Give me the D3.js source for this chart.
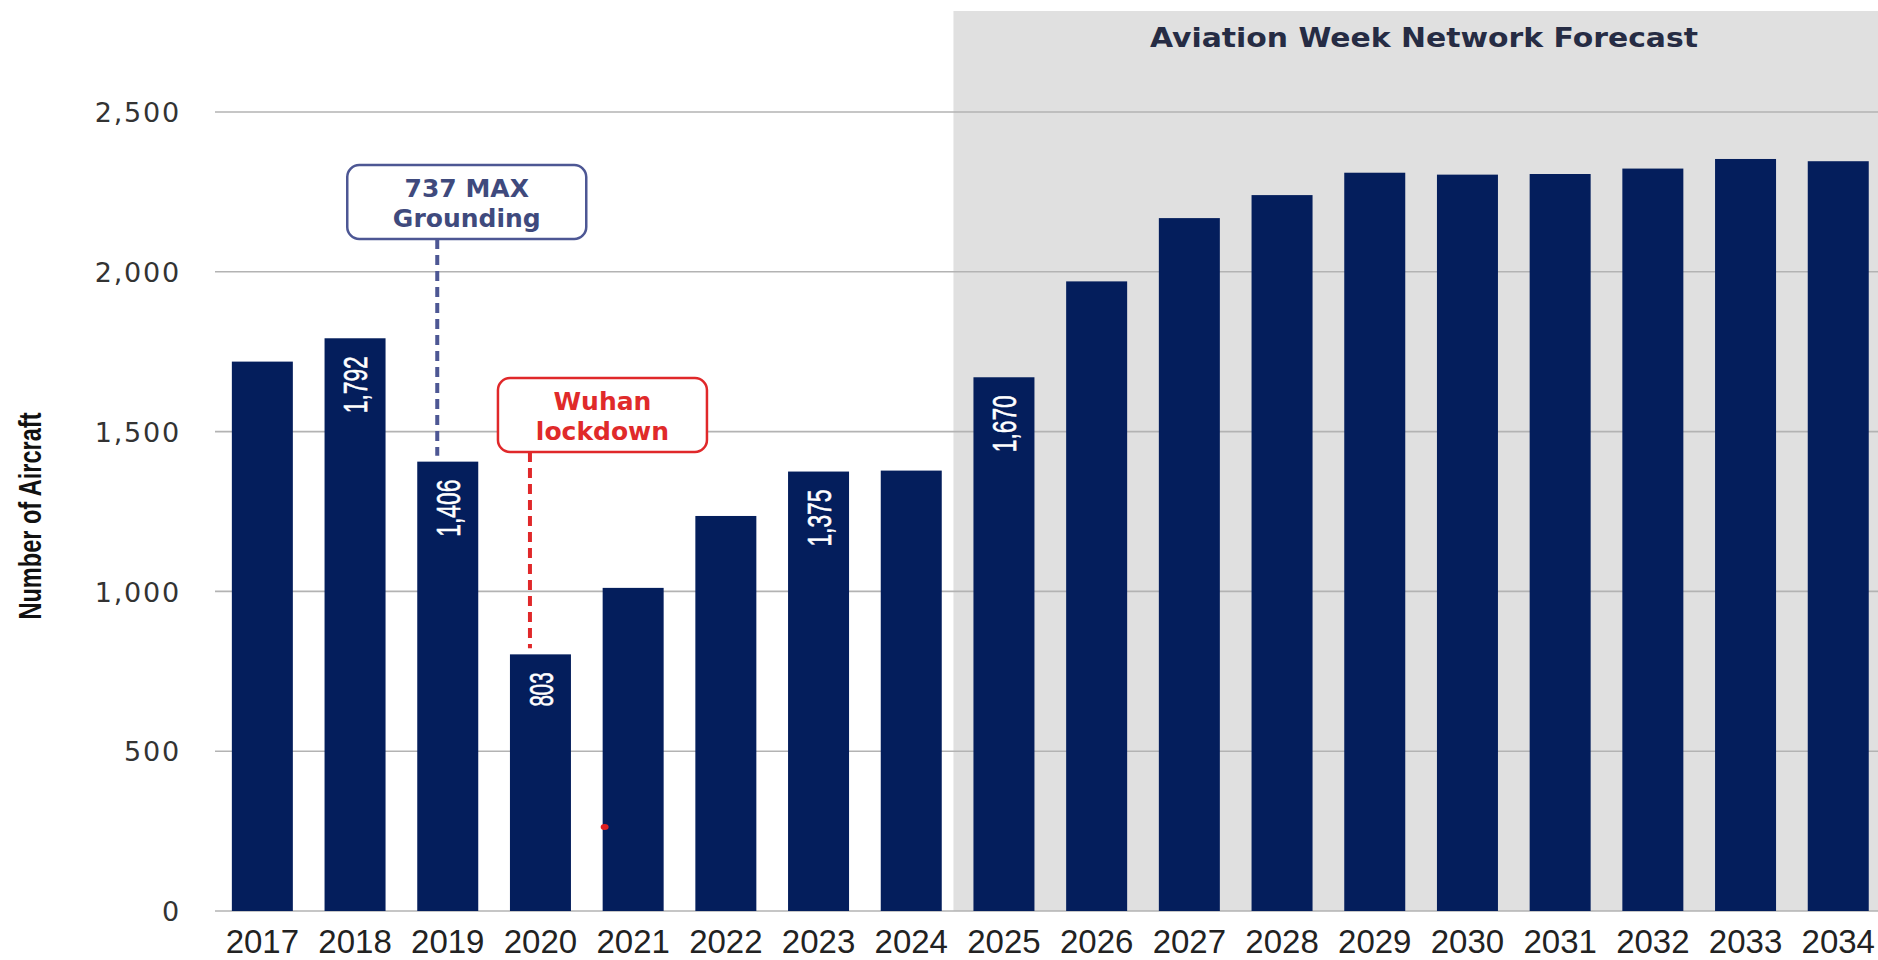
<!DOCTYPE html>
<html>
<head>
<meta charset="utf-8">
<script src="https://cdn.jsdelivr.net/npm/d3@7"></script>
<style>
  html, body { margin: 0; padding: 0; background: #ffffff; }
  svg { display: block; }
</style>
</head>
<body>
<svg id="chart" width="1878" height="960"></svg>
<script>
// ---- data ----
const years = ["2017","2018","2019","2020","2021","2022","2023","2024","2025","2026","2027","2028","2029","2030","2031","2032","2033","2034"];
const aircraft = [1719, 1792, 1406, 803, 1011, 1236, 1375, 1378, 1670, 1970, 2168, 2240, 2310, 2304, 2306, 2323, 2353, 2346];
const labeledYears = ["2018","2019","2020","2023","2025"];
const yTicks = [0, 500, 1000, 1500, 2000, 2500];
const forecastStart = "2025";
const forecastTitle = "Aviation Week Network Forecast";
const yAxisTitle = "Number of Aircraft";
const annotations = [
  { year: "2019", lines: ["737 MAX", "Grounding"] },
  { year: "2020", lines: ["Wuhan", "lockdown"] }
];

// ---- layout ----
const svg = d3.select("#chart");
const W = 1878, H = 960;
const x = d3.scaleBand().domain(years).range([216, 1884.6]).paddingInner(0.342).paddingOuter(0.171);
const y = d3.scaleLinear().domain([0, 2500]).range([911, 112]);
const fmt = d3.format(",");
const barColor = "#041e5c";

// forecast shaded region
const fx = x(forecastStart) - 20;
svg.append("rect").attr("x", fx).attr("y", 11).attr("width", W - fx).attr("height", y(0) - 11)
  .attr("fill", "#e0e0e0");
svg.append("text").attr("x", 1424).attr("y", 47).attr("text-anchor", "middle")
  .attr("font-family", "DejaVu Sans").attr("font-weight", "bold").attr("font-size", 26)
  .attr("textLength", 548).attr("lengthAdjust", "spacingAndGlyphs")
  .attr("fill", "#262c44").text(forecastTitle);

// gridlines + y axis
const yAxis = d3.axisLeft(y).tickValues(yTicks).tickSize(0).tickPadding(0).tickFormat(fmt);
const gy = svg.append("g").attr("transform", "translate(181,0)").call(yAxis);
gy.select(".domain").remove();
gy.selectAll("text").attr("font-family", "DejaVu Sans").attr("font-size", 27)
  .attr("letter-spacing", 1.8).attr("fill", "#333").attr("dy", "0.36em");
svg.append("g").selectAll("line").data(yTicks).join("line")
  .attr("x1", 215).attr("x2", W).attr("y1", d => y(d)).attr("y2", d => y(d))
  .attr("stroke", "#b3b3b3").attr("stroke-width", 1.6);

// y title
svg.append("text").attr("transform", "translate(30,516) rotate(-90)").attr("text-anchor", "middle")
  .attr("dy", "0.35em").attr("font-family", "Liberation Sans").attr("font-weight", "bold")
  .attr("font-size", 32).attr("textLength", 207).attr("lengthAdjust", "spacingAndGlyphs")
  .attr("fill", "#111").text(yAxisTitle);

// bars
const data = years.map((yr, i) => ({ year: yr, value: aircraft[i] }));
svg.append("g").selectAll("rect").data(data).join("rect")
  .attr("x", d => x(d.year)).attr("width", x.bandwidth())
  .attr("y", d => y(d.value)).attr("height", d => y(0) - y(d.value))
  .attr("fill", barColor);

// value labels inside bars
svg.append("g").selectAll("text").data(data.filter(d => labeledYears.includes(d.year))).join("text")
  .attr("transform", d => `translate(${x(d.year) + x.bandwidth() / 2},${y(d.value) + 18}) rotate(-90)`)
  .attr("text-anchor", "end").attr("dy", "0.36em")
  .attr("font-family", "Liberation Sans").attr("font-size", 34)
  .attr("stroke", "#ffffff").attr("stroke-width", 0.6)
  .attr("textLength", d => fmt(d.value).length * 11.4).attr("lengthAdjust", "spacingAndGlyphs")
  .attr("fill", "#ffffff").text(d => fmt(d.value));

// x axis labels
const xAxis = d3.axisBottom(x).tickSize(0).tickPadding(0);
const gx = svg.append("g").attr("transform", `translate(0,${y(0)})`).call(xAxis);
gx.select(".domain").remove();
gx.selectAll("text").attr("font-family", "Liberation Sans").attr("font-size", 33)
  .attr("fill", "#222").attr("y", 42).attr("dy", 0);

// annotations
const annStyle = [
  { stroke: "#4d5794", text: "#3f4a7d", boxLeft: -70, boxW: 239, boxTop: 165, lineX: 20 },
  { stroke: "#e0282a", text: "#e02a2a", boxLeft: -12, boxW: 209, boxTop: 378, lineX: 20 }
];
annotations.forEach((a, i) => {
  const s = annStyle[i];
  const d = data.find(e => e.year === a.year);
  const lx = x(a.year) + s.lineX;
  const bx = x(a.year) + s.boxLeft;
  const bh = 74;
  svg.append("line").attr("x1", lx).attr("x2", lx).attr("y1", s.boxTop + bh).attr("y2", y(d.value) - 6)
    .attr("stroke", s.stroke).attr("stroke-width", 4).attr("stroke-dasharray", "10,6");
  svg.append("rect").attr("x", bx).attr("y", s.boxTop).attr("width", s.boxW).attr("height", bh)
    .attr("rx", 12).attr("fill", "#ffffff").attr("stroke", s.stroke).attr("stroke-width", 2.5);
  a.lines.forEach((t, j) => {
    svg.append("text").attr("x", bx + s.boxW / 2).attr("y", s.boxTop + 32 + j * 30)
      .attr("text-anchor", "middle").attr("font-family", "DejaVu Sans").attr("font-weight", "bold")
      .attr("font-size", 25).attr("fill", s.text).text(t);
  });
});

// small red mark near 2021 bar
svg.append("ellipse").attr("cx", x("2021") + 2).attr("cy", y(263)).attr("rx", 4).attr("ry", 3)
  .attr("fill", "#e02020");
</script>
</body>
</html>
